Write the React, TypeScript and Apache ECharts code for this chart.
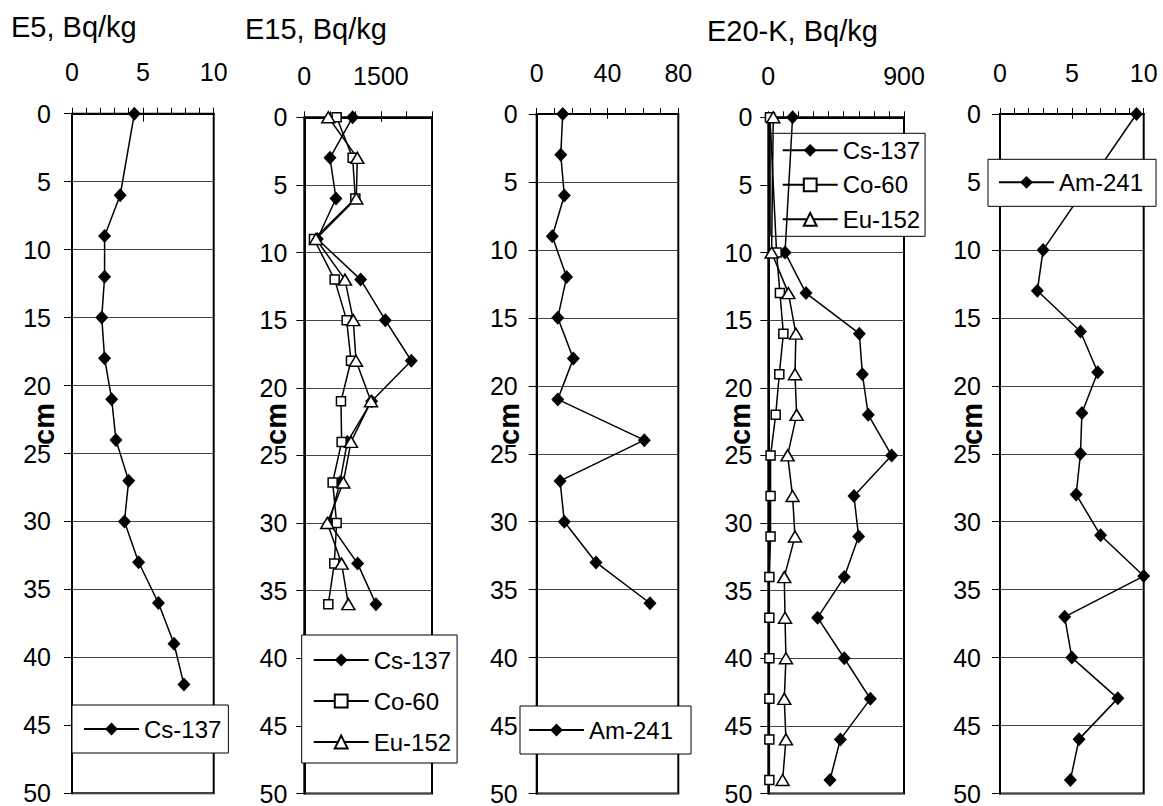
import React, { useEffect, useRef } from 'react';
import * as echarts from 'echarts';

const FONT = '"Liberation Sans", Arial, sans-serif';

// ---- data (depth in cm, activity in Bq/kg) ----
const e5Depth = [0, 6, 9, 12, 15, 18, 21, 24, 27, 30, 33, 36, 39, 42];
const e5Cs = [4.4, 3.4, 2.3, 2.3, 2.1, 2.3, 2.8, 3.1, 4.0, 3.7, 4.7, 6.1, 7.2, 7.9];

const e15Depth = [0, 3, 6, 9, 12, 15, 18, 21, 24, 27, 30, 33, 36];
const e15Cs = [946, 503, 620, 255, 1103, 1586, 2095, 1318, 842, 698, 490, 1044, 1403];
const e15Co = [633, 946, 999, 189, 594, 829, 914, 718, 731, 555, 633, 587, 470];
const e15Eu = [470, 1038, 1018, 228, 796, 959, 1012, 1305, 914, 764, 450, 731, 862];
const e15Am = [14.7, 13.6, 15.6, 8.8, 16.9, 11.9, 20.7, 11.9, 60.8, 13.2, 15.6, 33.5, 64.0];

const e20Depth = [0, 10, 13, 16, 19, 22, 25, 28, 31, 34, 37, 40, 43, 46, 49];
const e20Cs = [161, 111, 250, 604, 624, 663, 818, 568, 599, 504, 327, 504, 677, 478, 409];
const e20Co = [11, 55, 77, 100, 73, 49, 15, 15, 15, 7, 7, 7, 7, 7, 7];
const e20Eu = [33, 22, 133, 183, 177, 188, 128, 161, 177, 106, 111, 117, 106, 117, 95];
const e20Am = [9.5, 3.0, 2.6, 5.6, 6.8, 5.7, 5.6, 5.3, 7.0, 10.0, 4.5, 5.0, 8.2, 5.5, 4.9];

const titles = ['E5, Bq/kg', 'E15, Bq/kg', 'E20-K, Bq/kg'];
const depthMax = 50;
const depthStep = 5;

const panels = [
  { left: 72, top: 113.7, width: 141.7, height: 679.6, max: 10, minor: 1, major: 5, yMargin: 21 },
  { left: 304.3, top: 117.3, width: 127.7, height: 679.7, max: 2500, minor: 500, major: 1500, yMargin: 17 },
  { left: 536.7, top: 114, width: 141.6, height: 682.7, max: 80, minor: 10, major: 40, yMargin: 19 },
  { left: 768.3, top: 117.3, width: 135.7, height: 679.4, max: 900, minor: 100, major: 900, yMargin: 16 },
  { left: 1000, top: 114, width: 143.7, height: 682.7, max: 10, minor: 1, major: 5, yMargin: 19 },
];

const styles: Record<string, any> = {
  diamond: { symbol: 'diamond', symbolSize: [13, 14], itemStyle: { color: '#000', borderColor: '#000', borderWidth: 0 } },
  square: { symbol: 'rect', symbolSize: [9, 9], itemStyle: { color: '#fff', borderColor: '#000', borderWidth: 1.5 } },
  triangle: { symbol: 'triangle', symbolSize: [13, 11], itemStyle: { color: '#fff', borderColor: '#000', borderWidth: 1.5 } },
};

export default function App() {
  const ref = useRef<HTMLDivElement>(null);
  useEffect(() => {
    document.body.style.margin = '0';
    const chart = echarts.init(ref.current!, null, { renderer: 'svg' });

    const grid: any[] = [];
    const xAxis: any[] = [];
    const yAxis: any[] = [];
    panels.forEach((p, i) => {
      grid.push({
        left: p.left, top: p.top, width: p.width, height: p.height,
        show: true, borderColor: '#000', borderWidth: 2, backgroundColor: 'transparent',
      });
      xAxis.push({
        gridIndex: i, type: 'value', position: 'top', min: 0, max: p.max, interval: p.minor,
        axisLine: { show: true, onZero: false, lineStyle: { color: '#000', width: 2 } },
        axisTick: { show: true, inside: false, length: 6, lineStyle: { color: '#000', width: 1 } },
        axisLabel: {
          show: true, margin: 29, fontSize: 25, fontFamily: FONT, color: '#000',
          formatter: (v: number) => (Math.abs(v % p.major) < 1e-9 ? String(v) : ''),
        },
        splitLine: { show: false },
      });
      xAxis.push({
        gridIndex: i, type: 'value', position: 'bottom', offset: -p.height, min: 0, max: p.max, interval: p.major,
        axisLine: { show: false, onZero: false },
        axisTick: { show: true, inside: false, length: 8, lineStyle: { color: '#000', width: 1 } },
        axisLabel: { show: false },
        splitLine: { show: false },
      });
      yAxis.push({
        gridIndex: i, type: 'value', inverse: true, min: 0, max: depthMax, interval: depthStep,
        axisLine: { show: true, onZero: false, lineStyle: { color: '#000', width: 2 } },
        axisTick: { show: true, inside: false, length: 8, lineStyle: { color: '#000', width: 1 } },
        axisLabel: { margin: p.yMargin, fontSize: 25, fontFamily: FONT, color: '#000' },
        splitLine: { show: true, lineStyle: { color: '#444', width: 1 } },
      });
    });

    const mk = (panel: number, name: string, depths: number[], vals: number[], kind: string) => ({
      type: 'line', name, xAxisIndex: panel * 2, yAxisIndex: panel,
      data: vals.map((v, k) => [v, depths[k]]),
      ...styles[kind],
      lineStyle: { color: '#000', width: 1.5 },
      clip: false, z: 3,
    });

    const series = [
      mk(0, 'Cs-137', e5Depth, e5Cs, 'diamond'),
      mk(1, 'Cs-137', e15Depth, e15Cs, 'diamond'),
      mk(1, 'Co-60', e15Depth, e15Co, 'square'),
      mk(1, 'Eu-152', e15Depth, e15Eu, 'triangle'),
      mk(2, 'Am-241', e15Depth, e15Am, 'diamond'),
      mk(3, 'Cs-137', e20Depth, e20Cs, 'diamond'),
      mk(3, 'Co-60', e20Depth, e20Co, 'square'),
      mk(3, 'Eu-152', e20Depth, e20Eu, 'triangle'),
      mk(4, 'Am-241', e20Depth, e20Am, 'diamond'),
    ];

    const legBase = {
      orient: 'vertical', itemWidth: 55, itemHeight: 16, selectedMode: false,
      backgroundColor: '#fff', borderColor: '#000', borderWidth: 1, borderRadius: 0,
      textStyle: { fontSize: 24, fontFamily: FONT, color: '#000' },
    };
    const legend = [
      { ...legBase, left: 72, top: 705, padding: [12, 7, 12, 11], data: ['Cs-137'], z: 6 },
      { ...legBase, left: 301.7, top: 635, padding: [13, 6, 9, 11], itemGap: 17, data: ['Cs-137', 'Co-60', 'Eu-152'], z: 6 },
      { ...legBase, left: 520, top: 706, padding: [12, 18, 12, 8], data: ['Am-241'], z: 6 },
      { ...legBase, left: 770.7, top: 133.3, padding: [5, 5, 5, 11], itemGap: 10.5, data: ['Cs-137', 'Co-60', 'Eu-152'], z: 1 },
      { ...legBase, left: 988, top: 159.3, padding: [11, 13, 12, 10], data: ['Am-241'], z: 6 },
    ];

    const graphic: any[] = [
      { type: 'text', x: 11, y: 27, style: { text: titles[0], fontSize: 29, fontFamily: FONT, fill: '#000', align: 'left', verticalAlign: 'middle' } },
      { type: 'text', x: 245, y: 29, style: { text: titles[1], fontSize: 29, fontFamily: FONT, fill: '#000', align: 'left', verticalAlign: 'middle' } },
      { type: 'text', x: 707, y: 31, style: { text: titles[2], fontSize: 29, fontFamily: FONT, fill: '#000', align: 'left', verticalAlign: 'middle' } },
    ];
    panels.forEach((p) => {
      graphic.push({
        type: 'text', x: p.left - 28, y: 424, rotation: Math.PI / 2,
        style: { text: 'cm', fontSize: 29, fontWeight: 'bold', fontFamily: FONT, fill: '#000', align: 'center', verticalAlign: 'middle' },
      });
    });

    chart.setOption({
      animation: false,
      backgroundColor: '#fff',
      grid, xAxis, yAxis, series, legend, graphic,
    });
    return () => chart.dispose();
  }, []);
  return <div ref={ref} style={{ width: 1163, height: 806 }} />;
}
